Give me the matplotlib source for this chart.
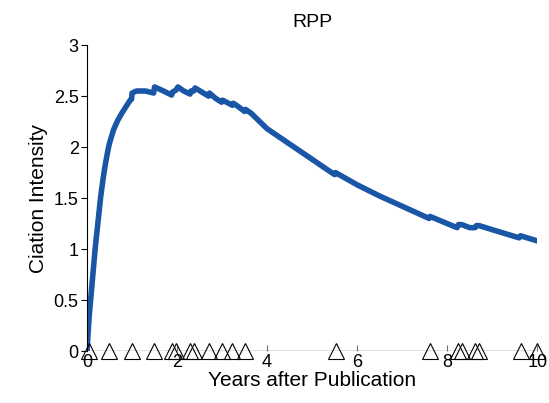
import matplotlib
matplotlib.use("Agg")
import matplotlib.pyplot as plt

plt.rcParams['font.family'] = ['Liberation Sans', 'DejaVu Sans']

# fitted intensity curve, close x pairs at citation jumps
years = [0, 0.02, 0.05, 0.08, 0.13, 0.18, 0.24, 0.30, 0.36, 0.41, 0.47, 0.5,
         0.59, 0.68, 0.77, 0.87, 0.96, 0.99, 1.0, 1.1, 1.3, 1.48, 1.5, 1.7,
         1.88, 1.9, 1.98, 2.02, 2.15, 2.29, 2.31, 2.37, 2.4, 2.55, 2.7, 2.72,
         2.85, 2.99, 3.01, 3.1, 3.23, 3.25, 3.35, 3.5, 3.52, 3.65, 4.0, 4.5,
         5.0, 5.5, 5.52, 6.0, 6.5, 7.0, 7.6, 7.62, 8.0, 8.22, 8.25, 8.32, 8.5,
         8.62, 8.65, 8.71, 9.0, 9.3, 9.6, 9.63, 10.0]
intensity = [0, 0.15, 0.35, 0.5, 0.75, 1.0, 1.25, 1.5, 1.7, 1.84, 1.98, 2.04,
             2.17, 2.26, 2.33, 2.40, 2.46, 2.47, 2.53, 2.55, 2.55, 2.53, 2.59,
             2.55, 2.51, 2.54, 2.56, 2.59, 2.55, 2.52, 2.55, 2.55, 2.58, 2.54,
             2.50, 2.53, 2.48, 2.44, 2.46, 2.44, 2.41, 2.43, 2.40, 2.35, 2.37,
             2.33, 2.18, 2.03, 1.88, 1.73, 1.75, 1.63, 1.52, 1.42, 1.30, 1.32,
             1.25, 1.21, 1.24, 1.24, 1.21, 1.21, 1.23, 1.23, 1.19, 1.15, 1.11,
             1.13, 1.08]

# citation times (triangles)
citations = [0.04, 0.49, 0.99, 1.48, 1.88, 1.98, 2.29, 2.37, 2.70, 2.99, 3.23,
             3.52, 5.52, 7.62, 8.23, 8.32, 8.62, 8.71, 9.63, 10.0]

fig = plt.figure(figsize=(5.49, 4.03), dpi=100)
ax = fig.add_axes([0.1585, 0.129, 0.82, 0.759])

ax.axhline(0, color='#707070', lw=1.0, zorder=1)
ax.plot(years, intensity, color='#1a56a6', lw=4.0, solid_joinstyle='round', zorder=2)
ax.plot(citations, [0] * len(citations), linestyle='none', marker='^',
        markersize=12, markerfacecolor='none', markeredgecolor='black',
        markeredgewidth=0.8, zorder=3, clip_on=False)

ax.set_xlim(0, 10)
ax.set_ylim(0, 3)
ax.set_xticks([0, 2, 4, 6, 8, 10])
ax.set_yticks([0, 0.5, 1, 1.5, 2, 2.5, 3])
ax.set_yticklabels(['0', '0.5', '1', '1.5', '2', '2.5', '3'])
for s in ['top', 'right', 'bottom']:
    ax.spines[s].set_visible(False)
ax.spines['left'].set_linewidth(0.8)
ax.tick_params(axis='x', direction='in', length=4, labelsize=13, pad=2, color='#707070')
ax.tick_params(axis='y', direction='out', length=4, labelsize=13, pad=2)

ax.set_xlabel('Years after Publication', fontsize=15, labelpad=0)
ax.set_ylabel('Ciation Intensity', fontsize=15, labelpad=4)
ax.set_title('RPP', fontsize=14, pad=13)

fig.savefig('out.png', dpi=100)
